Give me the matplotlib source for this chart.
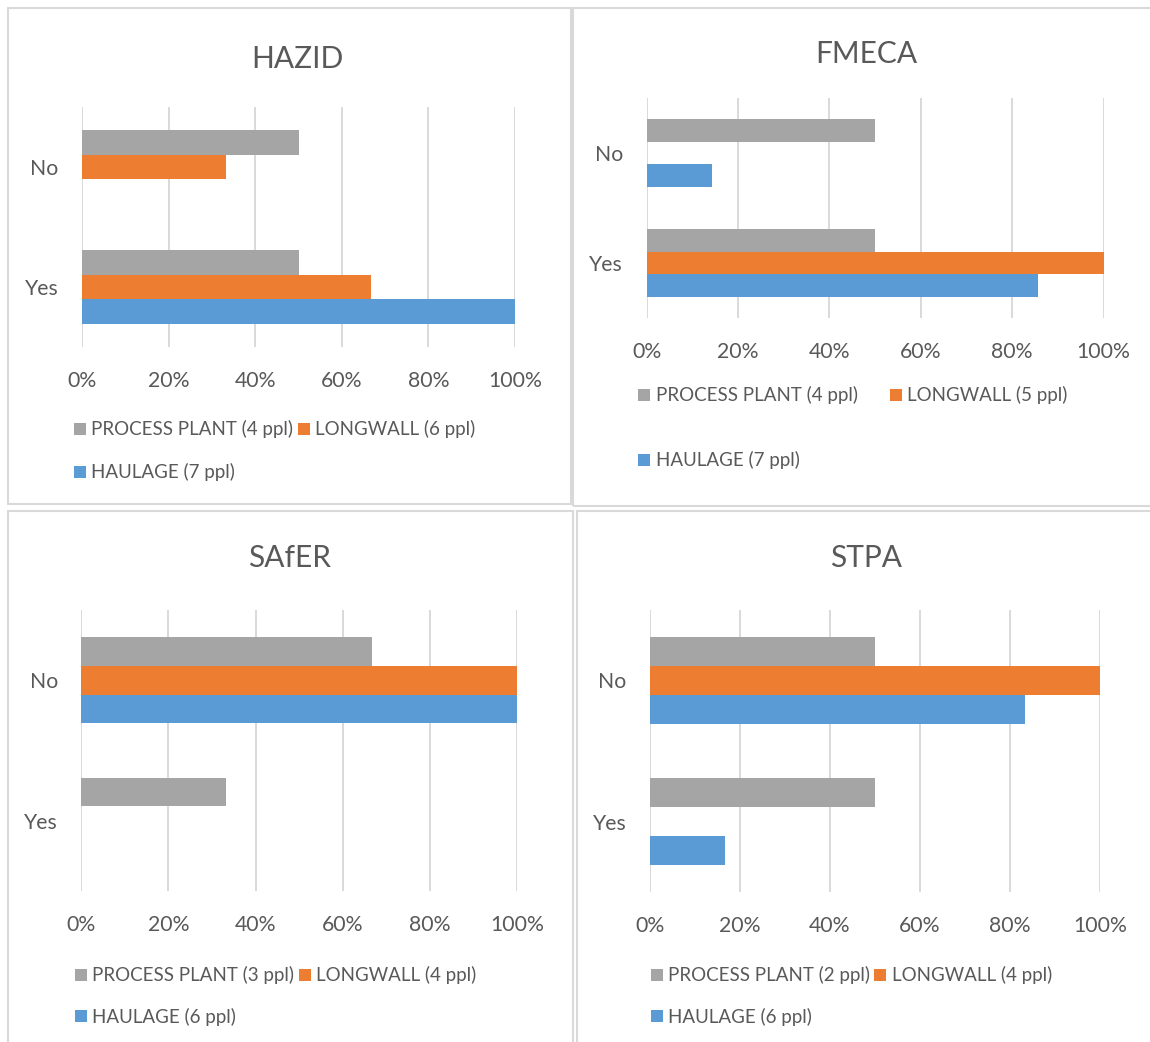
import matplotlib
matplotlib.use('Agg')
import matplotlib.pyplot as plt
from matplotlib.patches import Rectangle

plt.rcParams['font.family'] = ['Lato', 'DejaVu Sans']

# categories (bottom to top, as Excel draws them)
categories = ['Yes', 'No']
x_ticks = [0, 20, 40, 60, 80, 100]

# percent of respondents, order: Yes, No
hazid_pp = [50, 50]
hazid_lw = [66.7, 33.3]
hazid_h = [100, 0]

fmeca_pp = [50, 50]
fmeca_lw = [100, 0]
fmeca_h = [85.7, 14.3]

safer_pp = [33.3, 66.7]
safer_lw = [0, 100]
safer_h = [0, 100]

stpa_pp = [50, 50]
stpa_lw = [0, 100]
stpa_h = [16.7, 83.3]

hazid_labels = ['PROCESS PLANT (4 ppl)', 'LONGWALL (6 ppl)', 'HAULAGE (7 ppl)']
fmeca_labels = ['PROCESS PLANT (4 ppl)', 'LONGWALL (5 ppl)', 'HAULAGE (7 ppl)']
safer_labels = ['PROCESS PLANT (3 ppl)', 'LONGWALL (4 ppl)', 'HAULAGE (6 ppl)']
stpa_labels = ['PROCESS PLANT (2 ppl)', 'LONGWALL (4 ppl)', 'HAULAGE (6 ppl)']

GRAY = '#A5A5A5'
ORANGE = '#ED7D31'
BLUE = '#5B9BD5'
TXT = '#595959'
GRID = '#D9D9D9'

W, H = 1150, 1042
fig = plt.figure(figsize=(W / 100, H / 100), dpi=100)


def fx(x):
    return x / W


def fy(y):
    return 1 - y / H


def panel(title, pp, lw, hl, labels, box, title_xy, axbox, rows, lx):
    # frame round the chart
    x0, y0, x1, y1 = box
    fig.patches.append(Rectangle((fx(x0), fy(y1)), fx(x1 - x0), (y1 - y0) / H,
                                 transform=fig.transFigure, fill=False,
                                 edgecolor=GRID, lw=1.5))
    fig.text(fx(title_xy[0]), fy(title_xy[1]), title, ha='center', va='baseline',
             fontsize=21.5, color=TXT)

    a0, a1, t, b = axbox
    ax = fig.add_axes([fx(a0), fy(b), fx(a1 - a0), (b - t) / H])
    y = range(len(categories))
    bh = 0.205
    ax.barh([v - bh for v in y], hl, height=bh, color=BLUE)
    ax.barh(list(y), lw, height=bh, color=ORANGE)
    ax.barh([v + bh for v in y], pp, height=bh, color=GRAY)
    ax.set_xlim(0, 100)
    ax.set_ylim(-0.5, 1.5)
    ax.set_xticks(x_ticks)
    ax.set_xticklabels([f'{v}%' for v in x_ticks])
    ax.set_yticks(list(y))
    ax.set_yticklabels(categories)
    ax.tick_params(length=0, labelsize=15.3, labelcolor=TXT)
    ax.tick_params(axis='x', pad=17)
    ax.tick_params(axis='y', pad=17)
    ax.set_axisbelow(True)
    ax.grid(axis='x', color=GRID, lw=1.4)
    for s in ax.spines.values():
        s.set_visible(False)

    # legend, laid out like the Excel one
    m1, t1, m2, t2 = lx
    items = [(m1, t1, rows[0], GRAY, labels[0]),
             (m2, t2, rows[0], ORANGE, labels[1]),
             (m1, t1, rows[1], BLUE, labels[2])]
    for mx, tx, ry, c, lab in items:
        fig.patches.append(Rectangle((fx(mx), fy(ry + 6)), 12 / W, 12 / H,
                                     transform=fig.transFigure, color=c, lw=0))
        fig.text(fx(tx), fy(ry + 6.5), lab, ha='left', va='baseline',
                 fontsize=13.5, color=TXT)


panel('HAZID', hazid_pp, hazid_lw, hazid_h, hazid_labels,
      (8, 8, 571, 504), (297.5, 68.3), (82, 515, 107, 347),
      (429, 471.5), (74, 91, 298, 315))
panel('FMECA', fmeca_pp, fmeca_lw, fmeca_h, fmeca_labels,
      (573, 8, 1152, 506), (866.5, 63.3), (646.7, 1103.5, 98, 318),
      (395, 460), (638.4, 655.8, 890, 907))
panel('SAfER', safer_pp, safer_lw, safer_h, safer_labels,
      (8, 511.5, 573, 1045), (290, 567.4), (81.4, 516.8, 610, 891),
      (975, 1016), (75, 92.5, 299, 316))
panel('STPA', stpa_pp, stpa_lw, stpa_h, stpa_labels,
      (577, 511.5, 1152, 1045), (866.5, 567), (650, 1099.8, 610, 892),
      (975, 1016), (651, 668, 874, 892))

fig.savefig('out.png', dpi=100, facecolor='white')
